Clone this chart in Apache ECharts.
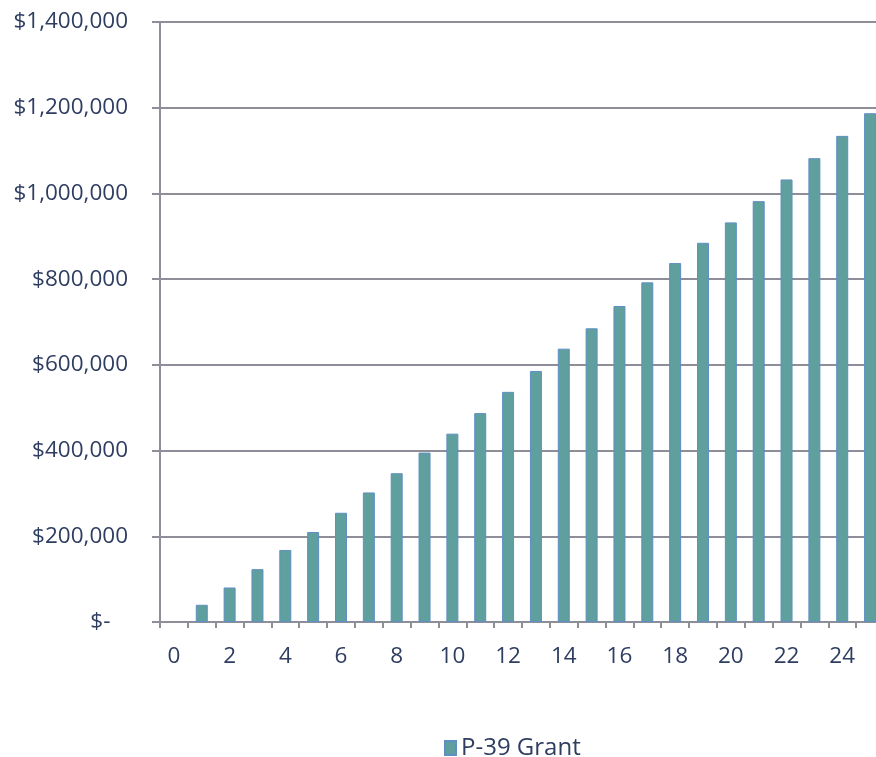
<!DOCTYPE html>
<html>
<head>
<meta charset="utf-8">
<script src="https://cdn.jsdelivr.net/npm/echarts@6/dist/echarts.min.js"></script>
<style>
html,body{margin:0;padding:0;background:#fff;}
#chart{width:876px;height:757px;}
</style>
</head>
<body>
<div id="chart"></div>
<script>
var years = ['0','1','2','3','4','5','6','7','8','9','10','11','12','13','14','15','16','17','18','19','20','21','22','23','24','25'];
var grantValues = [null, 40200, 80500, 123300, 168100, 210000, 254900, 302300, 347200, 395300, 439500, 487400, 537000, 585800, 637800, 685300, 737300, 792500, 837500, 884800, 932400, 982000, 1032600, 1082300, 1134300, 1187200];
var seriesName = 'P-39 Grant';

var chart = echarts.init(document.getElementById('chart'));
var textColor = '#2e3d60';
var lineColor = '#8e8e98';
chart.setOption({
  animation: false,
  backgroundColor: '#ffffff',
  textStyle: {fontFamily: 'Open Sans'},
  grid: {left: 160, top: 22, width: 724, height: 600, containLabel: false, outerBoundsMode: 'none'},
  legend: {
    top: 736, left: 444, padding: 0,
    itemWidth: 11, itemHeight: 14, itemGap: 3,
    textStyle: {color: textColor, fontSize: 24, fontFamily: 'Open Sans'},
    data: [{name: seriesName, icon: 'rect'}]
  },
  xAxis: {
    type: 'category',
    data: years,
    boundaryGap: true,
    axisLine: {lineStyle: {color: lineColor, width: 2}},
    axisTick: {show: true, alignWithLabel: false, interval: 0, length: 6, lineStyle: {color: lineColor, width: 2}},
    axisLabel: {interval: 1, color: textColor, fontSize: 22.5, margin: 23, fontFamily: 'Open Sans'},
    splitLine: {show: false}
  },
  yAxis: {
    type: 'value',
    min: 0, max: 1400000, interval: 200000,
    axisLine: {show: true, lineStyle: {color: lineColor, width: 2}},
    axisTick: {show: true, length: 8, lineStyle: {color: lineColor, width: 2}},
    splitLine: {show: true, lineStyle: {color: lineColor, width: 2}},
    axisLabel: {
      color: textColor, fontSize: 22.5, margin: 32, fontFamily: 'Open Sans',
      formatter: function (v) {
        if (v === 0) return '$-   ';
        return '$' + v.toLocaleString('en-US');
      }
    }
  },
  series: [{
    name: seriesName,
    type: 'bar',
    data: grantValues,
    barWidth: 12,
    itemStyle: {color: '#5f9f9d', borderColor: '#5f8fc4', borderWidth: 1}
  }]
});
</script>
</body>
</html>
